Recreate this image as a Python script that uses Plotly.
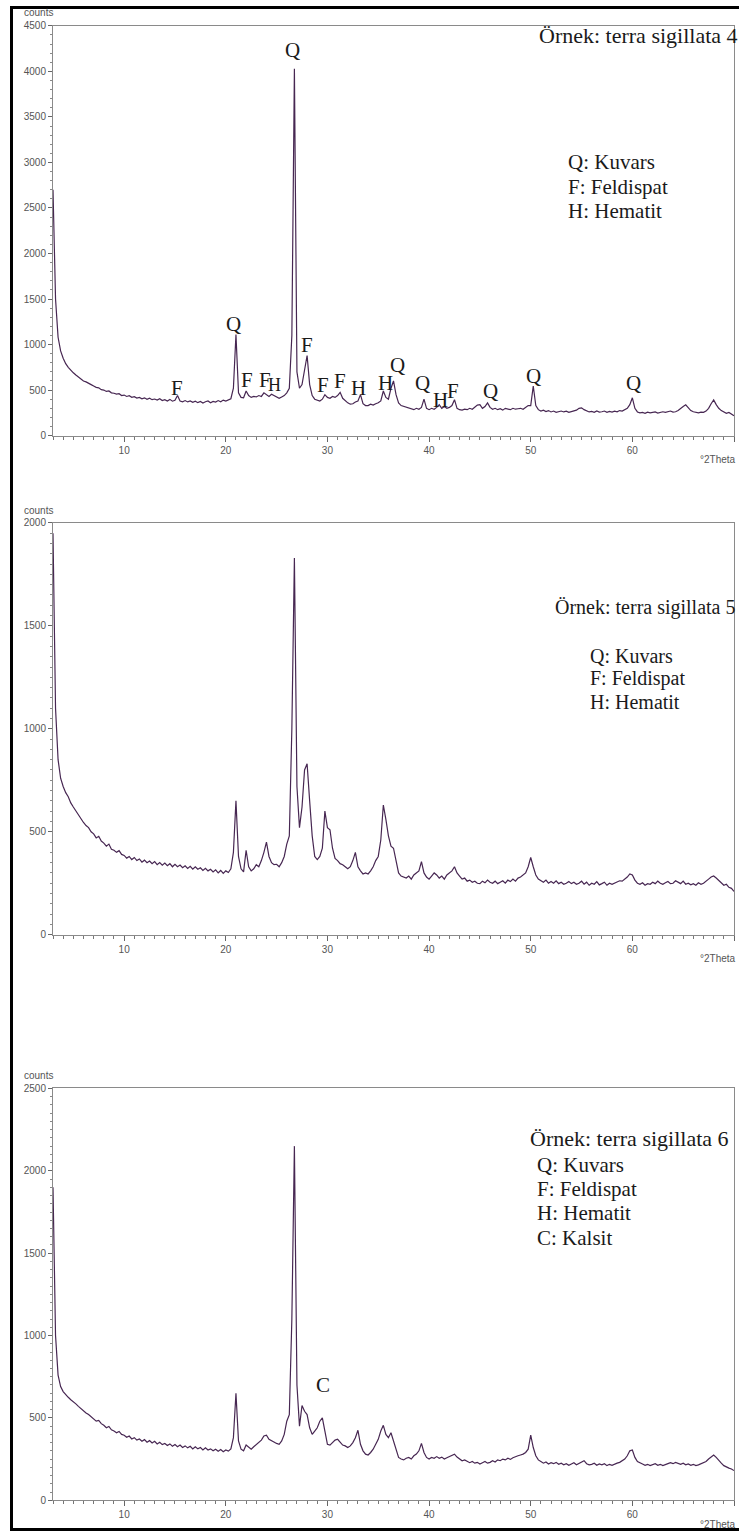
import plotly.graph_objects as go

W, H = 739, 1537

# ---------------- data (counts sampled every 0.25 deg 2Theta from 3 to 70) ----------------
x_start = 3.0
x_step = 0.25

p1_counts = [
    2700, 1500, 1080, 930,   850, 790, 750, 715,   690, 665, 640, 625,   600, 590, 570, 560,
    545, 530, 525, 505,      500, 485, 490, 470,   465, 455, 460, 440,   445, 430, 438, 420,
    428, 412, 420, 405,      415, 398, 410, 395,   402, 390, 405, 385,   395, 380, 398, 378,
    388, 440, 380, 372,      385, 370, 380, 365,   378, 362, 375, 358,   372, 380, 360, 375,
    368, 385, 372, 390,      380, 395, 405, 520,   1110, 470, 420, 415,  490, 440, 420, 430,
    425, 440, 430, 470,      445, 430, 455, 440,   420, 410, 425, 440,   470, 520, 1100, 4030,
    700, 520, 560, 700,      880, 560, 440, 400,   390, 380, 400, 450,   420, 410, 430, 420,
    440, 475, 410, 380,      360, 345, 350, 370,   380, 450, 350, 330,   330, 345, 335, 350,
    360, 380, 490, 420,      400, 520, 600, 450,   360, 330, 320, 310,   300, 295, 285, 300,
    290, 310, 400, 300,      285, 300, 290, 310,   340, 300, 320, 300,   310, 330, 395, 300,
    285, 280, 290, 285,      300, 290, 310, 335,   340, 300, 320, 360,   310, 290, 300, 285,
    295, 280, 300, 290,      285, 300, 290, 295,   300, 290, 310, 330,   330, 545, 330, 285,
    270, 280, 265, 275,      260, 270, 255, 265,   270, 260, 268, 255,   265, 272, 280, 300,
    305, 285, 270, 260,      265, 255, 270, 258,   262, 270, 255, 265,   258, 268, 262, 275,
    270, 285, 300, 340,      415, 300, 260, 250,   255, 245, 258, 250,   252, 260, 248, 255,
    262, 255, 265, 270,      258, 262, 275, 300,   320, 338, 300, 275,   262, 255, 250, 258,
    255, 270, 300, 350,      392, 340, 300, 275,   260, 245, 255, 240,   218,
]

p2_counts = [
    1950, 1100, 850, 760,    720, 690, 670, 640,   620, 600, 585, 560,   545, 530, 520, 500,
    490, 470, 478, 455,      445, 430, 440, 415,   410, 400, 408, 390,   385, 372, 380, 365,
    375, 360, 368, 352,      362, 350, 358, 345,   355, 340, 350, 338,   348, 335, 345, 330,
    342, 330, 338, 325,      335, 322, 332, 318,   330, 318, 325, 312,   322, 310, 318, 305,
    315, 300, 312, 298,      310, 302, 320, 400,   650, 380, 320, 305,   410, 330, 310, 320,
    340, 330, 360, 400,      450, 380, 350, 340,   342, 330, 350, 380,   440, 480, 1000, 1830,
    720, 520, 620, 800,      830, 650, 480, 380,   365, 380, 420, 600,   520, 510, 420, 370,
    360, 345, 340, 330,      320, 330, 360, 400,   330, 310, 295, 300,   295, 310, 330, 360,
    380, 460, 630, 560,      480, 430, 420, 360,   300, 285, 280, 275,   285, 270, 290, 300,
    310, 355, 300, 280,      270, 285, 300, 290,   275, 285, 270, 290,   300, 310, 330, 300,
    285, 270, 275, 260,      265, 255, 260, 250,   248, 260, 252, 265,   255, 250, 260, 248,
    255, 262, 250, 265,      258, 270, 260, 275,   280, 290, 300, 330,   375, 330, 290, 270,
    262, 255, 265, 250,      258, 250, 262, 248,   255, 245, 250, 258,   248, 255, 245, 250,
    260, 245, 255, 240,      250, 245, 258, 242,   248, 255, 240, 250,   245, 252, 258, 262,
    260, 270, 280, 295,      290, 265, 250, 245,   252, 240, 248, 245,   255, 248, 260, 250,
    245, 252, 258, 248,      250, 262, 255, 248,   260, 245, 250, 242,   248, 240, 252, 245,
    250, 262, 270, 280,      285, 275, 262, 250,   240, 245, 230, 225,   210,
]

p3_counts = [
    1900, 1000, 760, 690,    660, 640, 625, 610,   600, 585, 570, 555,   545, 530, 520, 505,
    495, 480, 485, 465,      455, 440, 448, 428,   420, 410, 418, 400,   395, 382, 390, 372,
    380, 365, 372, 358,      368, 352, 362, 348,   358, 342, 352, 338,   345, 332, 342, 328,
    338, 325, 335, 320,      330, 318, 328, 312,   325, 312, 320, 305,   318, 305, 312, 300,
    310, 298, 308, 295,      305, 298, 312, 380,   650, 360, 310, 300,   335, 320, 310, 325,
    340, 350, 365, 390,      395, 370, 360, 350,   345, 340, 360, 400,   480, 520, 1100, 2150,
    700, 450, 575, 540,      520, 440, 400, 420,   440, 480, 500, 420,   340, 335, 350, 365,
    370, 350, 335, 330,      320, 330, 350, 380,   425, 340, 300, 280,   275, 290, 310, 340,
    370, 420, 455, 400,      380, 410, 360, 300,   260, 250, 245, 255,   260, 250, 270, 280,
    300, 345, 290, 260,      250, 260, 255, 265,   255, 262, 250, 258,   265, 275, 280, 262,
    250, 240, 245, 235,      228, 235, 225, 230,   220, 228, 235, 225,   230, 240, 232, 245,
    240, 250, 245, 255,      248, 258, 262, 270,   275, 280, 290, 310,   395, 320, 270, 245,
    235, 225, 232, 220,      228, 222, 230, 218,   225, 215, 222, 212,   220, 228, 215, 222,
    230, 240, 222, 215,      218, 225, 212, 220,   215, 222, 210, 218,   212, 220, 225, 230,
    240, 250, 270, 300,      305, 260, 235, 225,   220, 212, 218, 210,   215, 222, 212, 218,
    210, 218, 222, 228,      222, 230, 225, 218,   225, 215, 220, 212,   218, 210, 215, 222,
    225, 235, 250, 265,      275, 260, 240, 225,   210, 200, 195, 190,   180,
]

sample_titles = ["Örnek: terra sigillata 4", "Örnek: terra sigillata 5", "Örnek: terra sigillata 6"]
legend_lines = [
    ["Q: Kuvars", "F: Feldispat", "H: Hematit"],
    ["Q: Kuvars", "F: Feldispat", "H: Hematit"],
    ["Q: Kuvars", "F: Feldispat", "H: Hematit", "C: Kalsit"],
]

# peak labels (letter, 2theta, counts at label)
p1_peak_letters = ["Q", "Q", "F", "F", "F", "F", "H", "F", "F", "H", "H", "Q", "Q", "H", "F", "Q", "Q", "Q"]
p1_peak_x = [26.55, 20.75, 28.0, 15.2, 22.1, 23.9, 24.75, 29.6, 31.2, 33.05, 35.7, 36.9, 39.35, 41.1, 42.4, 46.05, 50.3, 60.1]
p1_peak_y = [4230, 1230, 990, 520, 610, 610, 560, 560, 600, 520, 580, 775, 580, 395, 490, 490, 655, 580]
p1_peak_size = [21, 21, 21, 21, 21, 21, 18, 21, 21, 21, 21, 21, 21, 21, 21, 21, 21, 21]

p3_peak_letters = ["C"]
p3_peak_x = [29.6]
p3_peak_y = [700]

y_ranges = [4500, 2000, 2500]
y_minor = [100, 50, 50]

# ---------------- layout geometry (pixels) ----------------
PX_LEFT, PX_RIGHT = 53, 734
panels_px = [(20, 433), (521, 936), (1091, 1506)]
title_px = [(537, 30), (553, 606), (528, 1141)]
title_size = [22, 20, 22]
legend_px = [(566, 157, 25), (588, 655, 23), (535, 1168, 24.5)]
legend_size = [21, 20, 21]


def xp(px):
    return px / W


def yp(py):
    return 1 - py / H


line_color = "#472752"
axis_font = dict(family="Liberation Sans, Arial, sans-serif", size=10, color="#555555")
serif = "Liberation Serif, Times New Roman, serif"

fig = go.Figure()
series = [p1_counts, p2_counts, p3_counts]
for i, ys in enumerate(series):
    xs = [x_start + k * x_step for k in range(len(ys))]
    suffix = "" if i == 0 else str(i + 1)
    fig.add_trace(go.Scatter(
        x=xs, y=ys, mode="lines",
        line=dict(color=line_color, width=1.2),
        xaxis="x" + suffix, yaxis="y" + suffix,
        showlegend=False, hoverinfo="skip",
    ))

layout = dict(
    width=W, height=H,
    margin=dict(l=0, r=0, t=0, b=0),
    paper_bgcolor="white", plot_bgcolor="white",
    showlegend=False,
)

annotations = []
shapes = []
for i in range(3):
    top, bot = panels_px[i]
    suffix = "" if i == 0 else str(i + 1)
    layout["xaxis" + suffix] = dict(
        domain=[xp(PX_LEFT), xp(PX_RIGHT)],
        anchor="y" + suffix,
        range=[3, 70], tick0=0, dtick=10,
        showgrid=False, zeroline=False,
        showline=True, mirror=True, linecolor="#8a8a8a", linewidth=1,
        ticks="outside", ticklen=5, tickcolor="#666666",
        tickfont=axis_font,
        minor=dict(dtick=1, ticks="outside", ticklen=3, tickcolor="#777777"),
    )
    layout["yaxis" + suffix] = dict(
        domain=[yp(bot), yp(top)],
        anchor="x" + suffix,
        range=[0, y_ranges[i]], tick0=0, dtick=500,
        showgrid=False, zeroline=False,
        showline=True, mirror=True, linecolor="#8a8a8a", linewidth=1,
        ticks="outside", ticklen=4, tickcolor="#666666",
        tickfont=axis_font,
        minor=dict(dtick=y_minor[i], ticks="outside", ticklen=2, tickcolor="#888888"),
    )
    # "counts" and "°2Theta" labels
    annotations.append(dict(text="counts", xref="paper", yref="paper",
                            x=xp(38), y=yp(top - 13), xanchor="center", yanchor="middle",
                            showarrow=False, font=dict(family=axis_font["family"], size=10, color="#555555")))
    annotations.append(dict(text="°2Theta", xref="paper", yref="paper",
                            x=xp(738), y=yp(bot + 24), xanchor="right", yanchor="middle",
                            showarrow=False, font=dict(family=axis_font["family"], size=10, color="#555555")))
    # sample title
    tx, ty = title_px[i]
    annotations.append(dict(text=sample_titles[i], xref="paper", yref="paper",
                            x=xp(tx), y=yp(ty), xanchor="left", yanchor="middle",
                            showarrow=False, font=dict(family=serif, size=title_size[i], color="#1a1a1a")))
    lx, ly, lstep = legend_px[i]
    for j, t in enumerate(legend_lines[i]):
        annotations.append(dict(text=t, xref="paper", yref="paper",
                                x=xp(lx), y=yp(ly + j * lstep), xanchor="left", yanchor="middle",
                                showarrow=False, font=dict(family=serif, size=legend_size[i], color="#1a1a1a")))

for letter, px_, py_, fs in zip(p1_peak_letters, p1_peak_x, p1_peak_y, p1_peak_size):
    annotations.append(dict(text=letter, xref="x", yref="y", x=px_, y=py_,
                            xanchor="center", yanchor="middle", showarrow=False,
                            font=dict(family=serif, size=fs, color="#1a1a1a")))
for letter, px_, py_ in zip(p3_peak_letters, p3_peak_x, p3_peak_y):
    annotations.append(dict(text=letter, xref="x3", yref="y3", x=px_, y=py_,
                            xanchor="center", yanchor="middle", showarrow=False,
                            font=dict(family=serif, size=21, color="#1a1a1a")))

# outer black frame (left, top, bottom)
frame = dict(type="line", xref="paper", yref="paper", line=dict(color="black", width=3))
shapes.append({**frame, "x0": xp(11.5), "x1": xp(11.5), "y0": yp(1.5), "y1": yp(1535.5)})
shapes.append({**frame, "x0": xp(10), "x1": 1.0, "y0": yp(1.5), "y1": yp(1.5)})
shapes.append({**frame, "x0": xp(10), "x1": 1.0, "y0": yp(1535.5), "y1": yp(1535.5)})

layout["annotations"] = annotations
layout["shapes"] = shapes
fig.update_layout(**layout)
fig.write_html(
    "out.html",
    config={"displayModeBar": False},
    post_script="document.body.style.margin='0';document.body.style.overflow='hidden';",
)
